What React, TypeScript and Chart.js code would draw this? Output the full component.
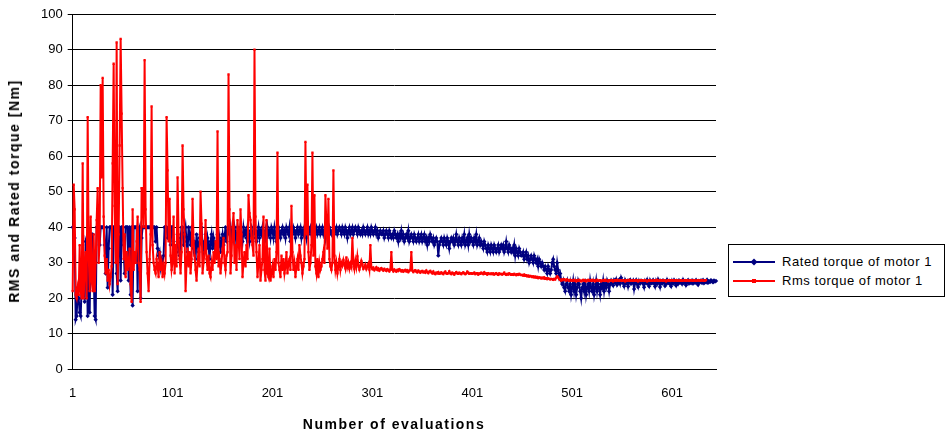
import React, { useEffect, useRef } from 'react';
import { Chart, registerables } from 'chart.js';

Chart.register(...registerables);

const COUNT = 645;
const evaluations: string[] = Array.from({ length: COUNT }, (_, i) => String(i + 1));
const xTickLabels = ['1', '101', '201', '301', '401', '501', '601'];
const seriesNames = ['Rated torque of motor 1', 'Rms torque of motor 1'];
const yAxisTitle = 'RMS and Rated torque [Nm]';
const xAxisTitle = 'Number of evaluations';

const ratedTorque = [
  40, 40, 37, 14, 15, 23, 20, 16, 15, 24,
  22, 25, 19, 36, 35, 15, 39, 16, 36, 38,
  38, 28, 15, 14, 40, 40, 40, 35, 40, 40,
  40, 40, 35, 27, 40, 23, 34, 40, 40, 40,
  21, 40, 40, 40, 27, 22, 40, 40, 25, 40,
  40, 35, 27, 40, 40, 40, 25, 40, 21, 40,
  18, 40, 40, 40, 40, 22, 39, 40, 20, 37,
  40, 40, 40, 40, 40, 40, 40, 40, 40, 40,
  40, 40, 40, 36, 40, 34, 32, 33, 29, 31,
  30, 32, 40, 40, 40, 37, 40, 40, 35, 40,
  40, 36, 34, 31, 33, 38, 35, 32, 37, 40,
  40, 35, 38, 40, 36, 33, 40, 38, 35, 40,
  37, 34, 36, 31, 38, 35, 33, 37, 36, 40,
  35, 33, 36, 38, 34, 37, 35, 31, 36, 38,
  34, 37, 35, 32, 36, 38, 35, 37, 33, 36,
  38, 35, 37, 40, 36, 39, 40, 38, 40, 36,
  39, 37, 40, 38, 35, 40, 39, 37, 40, 38,
  36, 40, 38, 39, 37, 40, 38, 36, 39, 40,
  38, 37, 40, 39, 36, 38, 40, 37, 39, 38,
  40, 38, 36, 39, 37, 40, 38, 39, 37, 40,
  39, 37, 40, 38, 36, 39, 40, 38, 37, 39,
  40, 38, 39, 37, 40, 39, 38, 40, 36, 39,
  38, 40, 39, 37, 39, 40, 38, 39, 40, 37,
  39, 38, 40, 39, 37, 40, 38, 39, 40, 38,
  40, 39, 37, 39, 40, 38, 39, 40, 38, 39,
  40, 38, 39, 37, 40, 39, 38, 40, 39, 38,
  39, 40, 38, 39, 40, 38, 39, 40, 39, 38,
  40, 39, 38, 40, 39, 37, 39, 40, 38, 39,
  40, 38, 39, 40, 39, 38, 40, 39, 38, 39,
  38, 40, 39, 38, 39, 40, 38, 39, 38, 40,
  39, 38, 39, 40, 38, 39, 37, 38, 39, 38,
  38, 39, 37, 38, 39, 38, 37, 39, 38, 37,
  38, 37, 39, 38, 37, 38, 36, 38, 37, 39,
  37, 38, 36, 37, 38, 37, 39, 36, 37, 38,
  37, 36, 38, 37, 36, 37, 38, 36, 37, 38,
  36, 37, 38, 36, 37, 35, 37, 36, 38, 37,
  36, 37, 35, 36, 37, 36, 32, 35, 36, 37,
  36, 35, 37, 36, 35, 37, 36, 34, 36, 37,
  36, 37, 35, 36, 38, 36, 35, 37, 36, 35,
  37, 36, 38, 35, 36, 37, 35, 38, 36, 37,
  36, 35, 37, 36, 38, 35, 36, 37, 35, 36,
  35, 34, 36, 35, 34, 33, 35, 34, 33, 35,
  34, 33, 35, 34, 33, 34, 35, 33, 34, 35,
  34, 35, 33, 34, 36, 34, 33, 35, 34, 33,
  34, 33, 35, 32, 34, 33, 32, 34, 33, 32,
  32, 33, 31, 32, 33, 31, 32, 30, 31, 32,
  31, 30, 32, 31, 30, 31, 29, 31, 30, 29,
  30, 29, 28, 29, 28, 27, 29, 28, 27, 28,
  30, 31, 29, 28, 27, 30, 28, 26, 27, 25,
  24, 25, 23, 22, 24, 25, 23, 22, 24, 21,
  23, 25, 22, 24, 21, 23, 25, 24, 22, 20,
  23, 24, 22, 25, 21, 23, 24, 22, 25, 23,
  22, 24, 21, 23, 25, 22, 24, 23, 21, 24,
  23, 25, 22, 24, 23, 25, 24, 22, 24, 25,
  24.2, 23.6, 25.1, 24.4, 25.3, 23.8, 24.5, 25.2, 24.1, 25.8,
  24.9, 24.3, 23.4, 25.1, 24.2, 24.8, 23.3, 24.6, 25.2, 24.1,
  24.4, 25.0, 22.6, 24.3, 25.1, 24.0, 23.2, 24.9, 24.2, 25.0,
  24.8, 24.1, 23.1, 24.9, 24.3, 25.2, 24.0, 23.4, 25.0, 24.2,
  24.3, 25.1, 24.2, 23.3, 24.9, 24.1, 25.3, 24.4, 23.2, 24.8,
  24.2, 25.0, 24.4, 23.5, 24.1, 25.2, 24.3, 24.9, 24.0, 23.4,
  24.9, 24.2, 25.1, 24.3, 23.6, 24.8, 24.1, 25.0, 24.4, 24.9,
  24.1, 25.2, 24.3, 24.8, 23.7, 24.4, 25.1, 24.2, 24.9, 24.3,
  25.0, 24.2, 24.9, 24.4, 25.1, 24.3, 23.8, 24.9, 24.5, 25.0,
  24.4, 25.1, 24.3, 24.9, 24.5, 25.2, 24.4, 24.8, 24.6, 25.1,
  24.8, 24.5, 25.0, 24.7, 24.9,
];

const rmsTorque = [
  22, 52, 45, 21, 20, 23, 21, 35, 22, 20,
  58, 20, 28, 33, 20, 71, 33, 22, 43, 25,
  22, 38, 22, 30, 42, 51, 30, 36, 80, 54,
  82, 43, 32, 27, 31, 25, 28, 24, 26, 29,
  58, 86, 46, 30, 92, 24, 38, 63, 93, 72,
  51, 31, 38, 26, 33, 28, 30, 34, 24, 19,
  45, 28, 33, 30, 36, 43, 30, 28, 19, 51,
  51, 40, 87, 45, 33, 27, 22, 31, 38, 74,
  35, 30, 28, 27, 31, 29, 26, 33, 28, 30,
  26, 29, 27, 30, 71, 56, 36, 48, 32, 28,
  30, 43, 27, 35, 29, 54, 38, 31, 27, 33,
  63, 45, 38, 22, 30, 34, 29, 33, 27, 31,
  48, 36, 32, 28, 25, 30, 34, 29, 50, 41,
  27, 30, 33, 42, 31, 28, 32, 27, 26, 30,
  28, 33, 30, 36, 31, 67, 29, 31, 27, 30,
  34, 37, 30, 28, 32, 33, 83, 45, 27, 32,
  40, 44, 30, 35, 28, 42, 37, 31, 45, 38,
  26, 30, 33, 29, 35, 31, 49, 44, 42, 37,
  35, 32, 90, 43, 33, 26, 30, 35, 25, 28,
  31, 43, 28, 25, 42, 27, 26, 34, 25, 27,
  29, 26, 31, 28, 33, 61, 30, 28, 26, 32,
  28, 31, 27, 29, 33, 27, 30, 31, 28, 46,
  33, 28, 30, 26, 29, 31, 28, 35, 32, 30,
  27, 29, 31, 64, 38, 52, 33, 28, 30, 35,
  61, 32, 49, 29, 27, 31, 26, 30, 28, 29,
  31, 33, 30, 49, 41, 34, 48, 31, 29, 28,
  30, 56, 32, 28, 30, 27, 29, 31, 28, 30,
  29.2, 30.8, 29.6, 28.4, 31.5, 28.9, 30.1, 28.3, 29.7, 28.8,
  37, 29.8, 28.2, 30.6, 28.9, 31.8, 29.4, 28.1, 29.0, 30.5,
  29.6, 28.3, 28.8, 29.5, 28.2, 28.9, 29.7, 28.1, 35, 28.7,
  28.2, 28.6, 27.9, 28.3, 28.7, 28.0, 28.4, 27.8, 28.2, 28.5,
  28.1, 27.8, 28.3, 28.0, 27.7, 28.2, 27.9, 27.6, 28.1, 33,
  28.0, 27.6, 28.1, 27.8, 27.5, 28.0, 27.7, 28.2, 27.9, 27.6,
  27.9, 27.5, 27.8, 28.0, 27.6, 27.9, 27.4, 27.7, 28.0, 33,
  27.8, 27.4, 27.7, 27.9, 27.5, 27.3, 27.8, 27.5, 27.2, 27.6,
  27.7, 27.3, 27.5, 27.2, 27.8, 27.4, 27.1, 27.5, 27.7, 27.3,
  27.0, 27.5, 27.0, 26.8, 27.2, 27.0, 27.4, 26.9, 27.0, 27.3,
  27.0, 26.8, 27.2, 27.5, 27.0, 26.9, 27.1, 27.6, 27.0, 26.8,
  27.2, 27.0, 26.7, 27.1, 27.4, 27.0, 26.9, 27.2, 27.0, 26.8,
  27.1, 27.3, 27.0, 26.8, 27.0, 27.5, 27.2, 26.9, 27.0, 27.1,
  26.9, 27.0, 27.2, 26.8, 27.0, 27.1, 26.7, 27.0, 26.9, 27.2,
  27.0, 26.8, 27.3, 26.9, 27.0, 26.7, 27.1, 26.9, 26.8, 27.0,
  26.8, 27.0, 26.7, 26.9, 27.1, 26.8, 26.6, 27.0, 26.8, 26.9,
  26.7, 26.9, 27.2, 26.8, 26.6, 26.9, 26.7, 27.0, 26.8, 26.6,
  26.8, 26.6, 26.9, 26.7, 26.5, 26.8, 26.6, 26.9, 26.7, 26.5,
  26.6, 26.4, 26.7, 26.3, 26.5, 26.2, 26.4, 26.1, 26.3, 26.2,
  26.0, 26.2, 25.9, 26.1, 25.8, 26.0, 25.7, 25.9, 25.8, 25.6,
  25.8, 25.6, 25.9, 25.5, 25.7, 25.4, 25.6, 25.5, 25.3, 25.5,
  25.4, 25.2, 25.5, 25.3, 25.8, 26.2, 25.9, 25.4, 25.2, 25.0,
  25.3, 25.1, 25.4, 25.2, 25.0, 25.3, 25.1, 24.9, 25.2, 25.0,
  25.1, 24.9, 25.2, 25.0, 24.8, 25.1, 24.9, 25.2, 25.0, 24.8,
  25.0, 25.2, 24.9, 25.1, 24.8, 25.0, 25.2, 24.9, 25.1, 24.9,
  25.2, 24.9, 25.1, 24.8, 25.0, 25.2, 24.9, 25.0, 25.1, 24.8,
  25.0, 25.1, 24.9, 25.2, 24.9, 25.0, 24.8, 25.1, 25.0, 24.9,
  25.1, 24.8, 25.0, 25.1, 24.9, 25.2, 25.0, 24.9, 25.1, 25.0,
  24.9, 25.1, 25.0, 24.8, 25.1, 24.9, 25.0, 25.2, 24.9, 25.0,
  25.0, 24.9, 25.1, 25.0, 24.9, 25.1, 24.8, 25.0, 25.1, 24.9,
  25.1, 25.0, 24.9, 25.1, 25.0, 24.8, 25.0, 25.1, 24.9, 25.0,
  24.9, 25.0, 25.1, 24.9, 25.0, 25.2, 24.9, 25.0, 24.9, 25.1,
  25.0, 24.9, 25.1, 25.0, 24.8, 25.0, 25.1, 24.9, 25.0, 25.1,
  25.0, 25.1, 24.9, 25.0, 25.1, 24.9, 25.0, 25.0, 24.9, 25.1,
  24.9, 25.0, 25.1, 25.0, 24.9, 25.1, 25.0, 24.9, 25.0, 25.1,
  25.0, 24.9, 25.1, 25.0, 24.9, 25.0, 25.1, 25.0, 24.9, 25.0,
  25.1, 25.0, 24.9, 25.0, 25.1,
];

const FONT = "'Liberation Sans', Arial, sans-serif";
const NAVY = '#000080';
const RED = '#ff0000';

function LegendSwatch({ color, diamond }: { color: string; diamond: boolean }) {
  return (
    <svg width={42} height={10} style={{ display: 'block' }}>
      <line x1={0} y1={5} x2={42} y2={5} stroke={color} strokeWidth={2} />
      {diamond ? (
        <polygon points="21,1.5 24.5,5 21,8.5 17.5,5" fill={color} />
      ) : (
        <rect x={19} y={3} width={4} height={4} fill={color} />
      )}
    </svg>
  );
}

export default function App() {
  const canvasRef = useRef<HTMLCanvasElement | null>(null);

  useEffect(() => {
    const canvas = canvasRef.current;
    if (!canvas) return;
    const chart = new Chart(canvas, {
      type: 'line',
      data: {
        labels: evaluations,
        datasets: [
          {
            label: seriesNames[0],
            data: ratedTorque,
            borderColor: NAVY,
            backgroundColor: NAVY,
            borderWidth: 2,
            pointStyle: 'rectRot',
            pointRadius: 2.2,
            pointBorderWidth: 0,
            pointBackgroundColor: NAVY,
            tension: 0,
            order: 1,
          },
          {
            label: seriesNames[1],
            data: rmsTorque,
            borderColor: RED,
            backgroundColor: RED,
            borderWidth: 2,
            pointStyle: 'rect',
            pointRadius: 1.6,
            pointBorderWidth: 0,
            pointBackgroundColor: RED,
            tension: 0,
            order: 0,
          },
        ],
      },
      options: {
        responsive: false,
        animation: false,
        devicePixelRatio: 1,
        events: [],
        layout: { padding: { left: 36, right: 236, top: 14, bottom: 18 } },
        plugins: {
          legend: { display: false },
          tooltip: { enabled: false },
        },
        scales: {
          x: {
            type: 'category',
            offset: false,
            grid: { display: false, drawTicks: false },
            border: { display: true, color: '#000', width: 1 },
            ticks: {
              autoSkip: false,
              maxRotation: 0,
              minRotation: 0,
              padding: 16,
              color: '#000',
              font: { family: FONT, size: 13 },
              callback: (_v: any, idx: number) =>
                xTickLabels.includes(evaluations[idx]) ? evaluations[idx] : '',
            },
          },
          y: {
            min: 0,
            max: 100,
            ticks: {
              stepSize: 10,
              color: '#000',
              padding: 5,
              font: { family: FONT, size: 13 },
            },
            grid: { color: '#000', lineWidth: 1, tickLength: 5, tickColor: '#000' },
            border: { display: true, color: '#000', width: 1 },
          },
        },
      },
    });
    return () => chart.destroy();
  }, []);

  const titleStyle: React.CSSProperties = {
    position: 'absolute',
    fontFamily: FONT,
    fontSize: 14,
    fontWeight: 'bold',
    letterSpacing: '1.5px',
    color: '#000',
    whiteSpace: 'nowrap',
    lineHeight: '16px',
  };

  return (
    <div style={{ position: 'fixed', left: 0, top: 0, width: 952, height: 435, background: '#fff' }}>
      <canvas ref={canvasRef} width={952} height={435} style={{ display: 'block' }} />
      <div style={{ ...titleStyle, left: 394, top: 424, transform: 'translate(-50%, -50%)' }}>
        {xAxisTitle}
      </div>
      <div
        style={{
          ...titleStyle,
          left: 14,
          top: 191,
          transform: 'translate(-50%, -50%) rotate(-90deg)',
        }}
      >
        {yAxisTitle}
      </div>
      <div
        style={{
          position: 'absolute',
          left: 728,
          top: 244,
          width: 217,
          height: 53,
          boxSizing: 'border-box',
          border: '1px solid #000',
          background: '#fff',
          fontFamily: FONT,
          fontSize: 13,
          letterSpacing: '0.55px',
          color: '#000',
        }}
      >
        {seriesNames.map((name, i) => (
          <div
            key={name}
            style={{
              position: 'absolute',
              left: 4,
              top: 9 + i * 19,
              display: 'flex',
              alignItems: 'center',
              whiteSpace: 'nowrap',
            }}
          >
            <LegendSwatch color={i === 0 ? NAVY : RED} diamond={i === 0} />
            <span style={{ marginLeft: 7, lineHeight: '15px' }}>{name}</span>
          </div>
        ))}
      </div>
    </div>
  );
}
